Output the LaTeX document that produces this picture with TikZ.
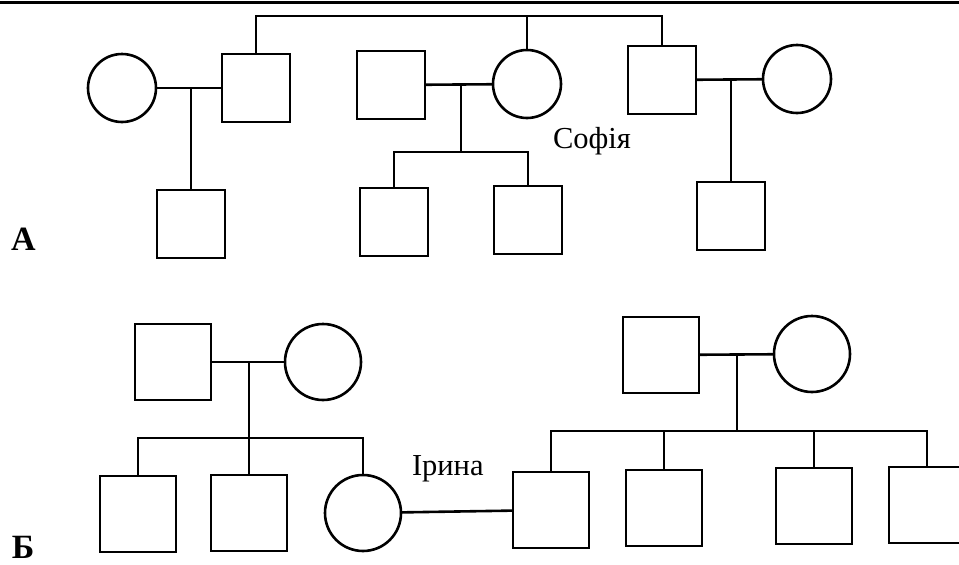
\documentclass[tikz,border=0pt]{standalone}
\usepackage{fontspec}
\setmainfont{Liberation Serif}
\begin{document}
\begin{tikzpicture}[x=1pt,y=-1pt,
  every node/.style={inner sep=0pt, outer sep=0pt},
  link/.style={line width=2.6pt},
  mansm/.style={draw, line width=2.6pt, rectangle, minimum width=68pt, minimum height=68pt},
  womansm/.style={draw, line width=2.6pt, circle, minimum size=68pt},
  manbg/.style={draw, line width=2.6pt, rectangle, minimum width=76pt, minimum height=76pt},
  womanbg/.style={draw, line width=2.6pt, circle, minimum size=76pt},
  namelbl/.style={font=\fontsize{30.5}{36}\selectfont, anchor=base west},
  panellbl/.style={font=\fontsize{34}{40}\selectfont\bfseries, anchor=base west}]
\useasboundingbox (0,0) rectangle (959,565);
\clip (0,0) rectangle (959,565);
\fill[white] (0,0) rectangle (959,565);
% top rule
\coordinate (ruleL) at (0,2);
\coordinate (ruleR) at (959,2);
\draw[line width=3pt] (ruleL) -- (ruleR);

% ---------- Panel A ----------
\node[womansm] (cA1) at (122,88) {};
\node[mansm] (sA1) at (256,88) {};
\node[mansm] (kA1) at (191,224) {};
\node[mansm] (sA2) at (391,85) {};
\node[womansm] (cA2) at (527,84) {};
\node[mansm] (kA2) at (394,222) {};
\node[mansm] (kA3) at (528,220) {};
\node[mansm] (sA3) at (662,80) {};
\node[womansm] (cA3) at (797,79) {};
\node[mansm] (kA4) at (731,216) {};

% grandparents' sibship line
\coordinate (tA) at (527,16);
\draw[link] (sA1.north) |- (tA) -| (sA3.north);
\draw[link] (tA) -- (cA2.north);

% family 1
\draw[link] (cA1) -- (sA1);
\coordinate (jA1) at (191,88);
\draw[link] (jA1) -- (kA1.north);

% family 2 (Sofia)
\draw[link] (sA2) -- (cA2);
\coordinate (jA2) at (461,84.5);
\coordinate (bA2) at (461,152);
\draw[link] (jA2) -- (bA2);
\draw[link] (kA2.north) |- (bA2) -| (kA3.north);

% family 3
\draw[link] (sA3) -- (cA3);
\coordinate (jA3) at (731,79.5);
\draw[link] (jA3) -- (kA4.north);

\node[namelbl] (sofia) at (553,148) {Софія};
\node[panellbl] (lblA) at (11,250) {А};

% ---------- Panel B ----------
\node[manbg] (sB1) at (173,362) {};
\node[womanbg] (cB1) at (323,362) {};
\node[manbg] (kB1) at (138,514) {};
\node[manbg] (kB2) at (249,513) {};
\node[womanbg] (cB2) at (363,513) {};

\draw[link] (sB1) -- (cB1);
\coordinate (jB1) at (249,362);
\coordinate (bB1) at (249,438);
\draw[link] (jB1) -- (bB1);
\draw[link] (kB1.north) |- (bB1) -| (cB2.north);
\draw[link] (bB1) -- (kB2.north);

\node[manbg] (sB2) at (661,355) {};
\node[womanbg] (cB3) at (812,354) {};
\node[manbg] (kD1) at (551,510) {};
\node[manbg] (kD2) at (664,508) {};
\node[manbg] (kD3) at (814,506) {};
\node[manbg] (kD4) at (927,505) {};

\draw[link] (sB2) -- (cB3);
\coordinate (jB2) at (737,354.5);
\coordinate (bB2) at (737,431);
\draw[link] (jB2) -- (bB2);
\draw[link] (kD1.north) |- (bB2) -| (kD4.north);
\draw[link] (kD2.north) -- (kD2.north |- bB2);
\draw[link] (kD3.north) -- (kD3.north |- bB2);

% Irina's marriage
\draw[link] (cB2) -- (kD1);

\node[namelbl] (irina) at (412,475) {Ірина};
\node[panellbl] (lblB) at (12,558) {Б};
\end{tikzpicture}
\end{document}
